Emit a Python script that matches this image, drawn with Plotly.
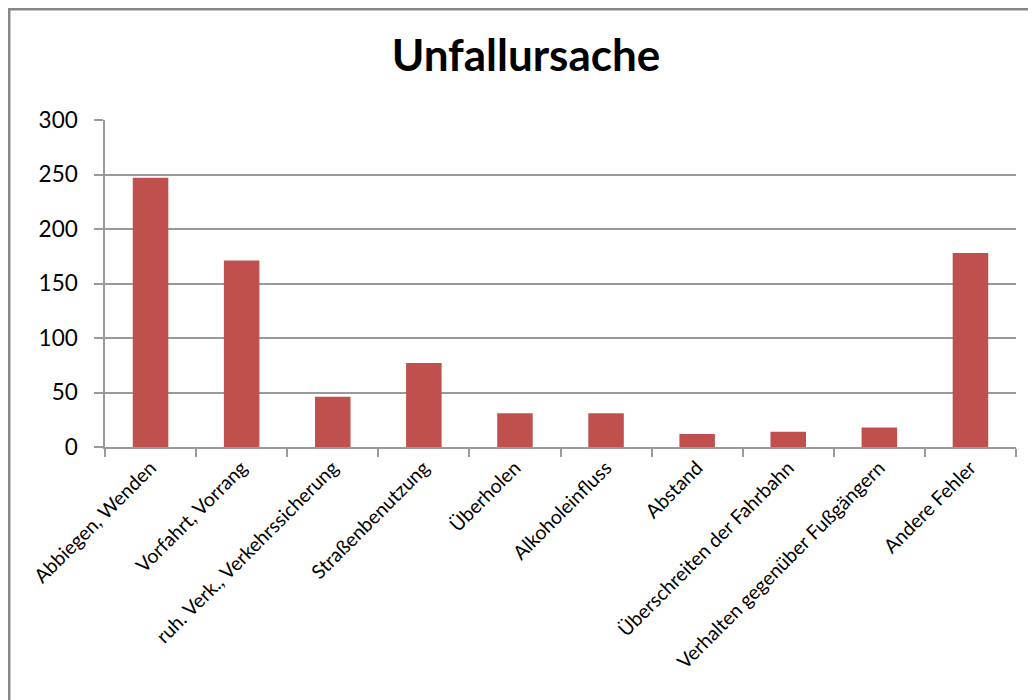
import plotly.graph_objects as go

categories = [
    "Abbiegen, Wenden",
    "Vorfahrt, Vorrang",
    "ruh. Verk., Verkehrssicherung",
    "Straßenbenutzung",
    "Überholen",
    "Alkoholeinfluss",
    "Abstand",
    "Überschreiten der Fahrbahn",
    "Verhalten gegenüber Fußgängern",
    "Andere Fehler",
]
values = [247, 171, 46, 77, 31, 31, 12, 14, 18, 178]
y_ticks = [0, 50, 100, 150, 200, 250, 300]

# page is drawn with an 8px body margin, so figure coords = page coords - 8
OFF = 8
W, H = 1036 - OFF, 700 - OFF
L, T = 105 - OFF, 120 - OFF
R = W - (1016 - OFF)
B = H - (447 - OFF)
pw, ph = W - L - R, H - T - B

def px_x(x):
    return (x - OFF - L) / pw

def px_y(y):
    return (H - B - (y - OFF)) / ph

fig = go.Figure(
    go.Bar(
        x=categories,
        y=values,
        marker=dict(color="#C0504D", line=dict(width=0)),
    )
)

frame_line = dict(color="#878787", width=2.5)

fig.update_layout(
    width=W,
    height=H,
    margin=dict(l=L, r=R, t=T, b=B, autoexpand=False),
    paper_bgcolor="white",
    plot_bgcolor="white",
    bargap=0.61,
    showlegend=False,
    font=dict(family="Lato, Carlito, sans-serif", color="#000000"),
    title=dict(
        text="<b>Unfallursache</b>",
        font=dict(family="Lato, sans-serif", size=44, color="#000000"),
        x=(526 - OFF) / W,
        xanchor="center",
        xref="container",
        y=1 - (56 - OFF) / H,
        yanchor="middle",
        yref="container",
    ),
    shapes=[
        dict(type="line", xref="paper", yref="paper",
             x0=px_x(8), x1=px_x(1040), y0=px_y(9.2), y1=px_y(9.2),
             line=frame_line, layer="below"),
        dict(type="line", xref="paper", yref="paper",
             x0=px_x(9.2), x1=px_x(9.2), y0=px_y(8), y1=px_y(704),
             line=frame_line, layer="below"),
    ],
)

fig.update_xaxes(
    type="category",
    tickangle=-45,
    tickfont=dict(size=19.5, family="Lato, sans-serif", color="#000000"),
    showline=True,
    linecolor="#999999",
    linewidth=1.5,
    ticks="outside",
    tickson="boundaries",
    ticklen=8,
    tickcolor="#999999",
    tickwidth=1.5,
    showgrid=False,
)

fig.update_yaxes(
    range=[0, 300],
    tickvals=y_ticks,
    tickfont=dict(size=22.5, family="Lato, sans-serif", color="#000000"),
    showline=True,
    linecolor="#999999",
    linewidth=1.5,
    ticks="outside",
    ticklen=9,
    tickcolor="#999999",
    tickwidth=1.5,
    showgrid=True,
    gridcolor="#999999",
    gridwidth=1.5,
    zeroline=False,
    ticklabelstandoff=12,
)

fig.write_html("out.html")
